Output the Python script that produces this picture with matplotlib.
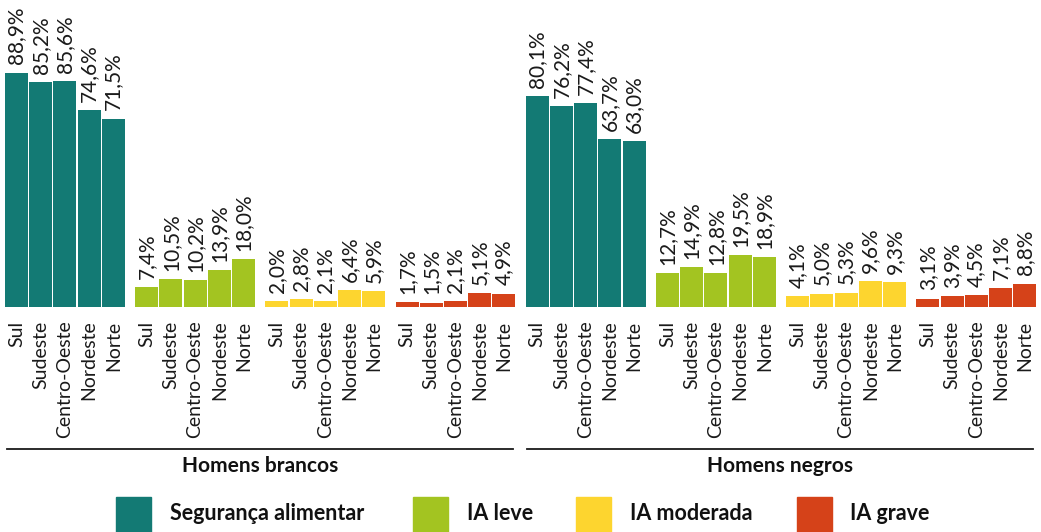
import matplotlib
matplotlib.use("Agg")
from matplotlib import pyplot as plt
from matplotlib.patches import Rectangle
from matplotlib.lines import Line2D
import numpy as np

# data
regions = ["Sul", "Sudeste", "Centro-Oeste", "Nordeste", "Norte"]
levels = ["Segurança alimentar", "IA leve", "IA moderada", "IA grave"]
groups = ["Homens brancos", "Homens negros"]
colors = ["#137a74", "#a3c421", "#fdd52f", "#d54219"]

brancos = [
    [88.9, 85.2, 85.6, 74.6, 71.5],
    [7.4, 10.5, 10.2, 13.9, 18.0],
    [2.0, 2.8, 2.1, 6.4, 5.9],
    [1.7, 1.5, 2.1, 5.1, 4.9],
]
negros = [
    [80.1, 76.2, 77.4, 63.7, 63.0],
    [12.7, 14.9, 12.8, 19.5, 18.9],
    [4.1, 5.0, 5.3, 9.6, 9.3],
    [3.1, 3.9, 4.5, 7.1, 8.8],
]

plt.rcParams['font.family'] = ['Lato', 'DejaVu Sans']

W, H = 1041, 532
fig = plt.figure(figsize=(W / 100, H / 100), dpi=100)

# axes: full width, baseline at y=306.7 px from top
base_px = 306.7
ax = fig.add_axes([0, 1 - base_px / H, 1, base_px / H])

pitch_px = 24.2      # bar pitch in pixels
group_pitch = 5.38   # in bar units
first_center = 16.5  # px

xs, heights, cols, ticklabels = [], [], [], []
g = 0
for series in (brancos, negros):
    for k, vals in enumerate(series):
        for i, v in enumerate(vals):
            xs.append(g * group_pitch + i)
            heights.append(v)
            cols.append(colors[k])
            ticklabels.append(regions[i])
        g += 1

ax.bar(xs, heights, width=0.95, color=cols, linewidth=0)
for x, v in zip(xs, heights):
    ax.annotate(f"{v:.1f}%".replace(".", ","), (x, v), xytext=(0, 6),
                textcoords="offset points", rotation=90, ha="center",
                va="bottom", fontsize=15, color="#1a1a1a")

ax.set_xlim(-first_center / pitch_px, (W - first_center) / pitch_px)
ax.set_ylim(0, base_px / 2.632)
ax.set_xticks(xs)
ax.set_xticklabels(ticklabels, rotation=90, fontsize=14, color="#1a1a1a")
ax.tick_params(axis="x", length=0, pad=10)
ax.set_yticks([])
for s in ax.spines.values():
    s.set_visible(False)

# group underlines and titles
for gi, name in enumerate(groups):
    x0 = 7 + gi * 520
    x1 = x0 + 506
    fig.add_artist(Line2D([x0 / W, x1 / W], [1 - 449 / H, 1 - 449 / H],
                          color="#1a1a1a", lw=1.3))
    fig.text((x0 + x1) / 2 / W, 1 - 466 / H, name, ha="center", va="center",
             fontsize=15, fontweight="bold", color="#111111")

# legend
box_x = [116, 413, 576, 797]
text_x = [170, 467, 630, 850]
for bx, tx, lab, c in zip(box_x, text_x, levels, colors):
    fig.add_artist(Rectangle((bx / W, 0), 35 / W, 35 / H, color=c,
                             transform=fig.transFigure))
    fig.text(tx / W, 1 - 514 / H, lab, ha="left", va="center",
             fontsize=15.5, fontweight="bold", color="#111111")

fig.savefig("out.png", dpi=100)
